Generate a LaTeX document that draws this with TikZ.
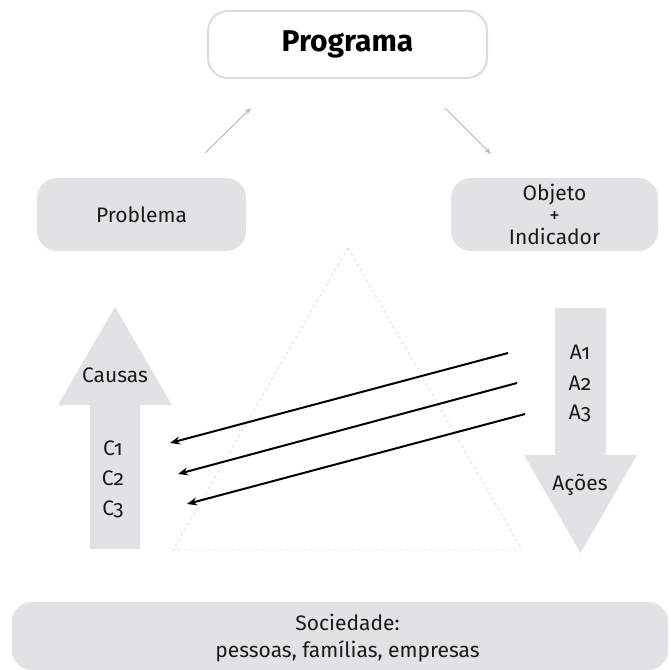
\documentclass[tikz,border=0pt]{standalone}
\usepackage{fontspec}
\setmainfont{Fira Sans}[Numbers=OldStyle]
\usepackage{tikz}
\usetikzlibrary{arrows.meta}
\usetikzlibrary{positioning}
\definecolor{boxgray}{HTML}{E1E2E4}
\definecolor{linegray}{HTML}{DCDCDC}
\definecolor{arrowgray}{HTML}{B5B7BA}
\definecolor{inkblack}{HTML}{1A1A1A}
\tikzstyle{box}=[fill=boxgray,rounded corners=20pt,inner sep=0pt,align=center,text=inkblack,font=\fontsize{21}{22}\selectfont]
\tikzstyle{lbl}=[inner sep=0pt,anchor=base,text=inkblack,font=\fontsize{21}{22}\selectfont]

\begin{document}
\begin{tikzpicture}[x=1pt,y=-1pt]
\tikzstyle{thin arrow}=[draw=arrowgray,line width=0.9pt,-{Stealth[length=7pt,width=5pt]}]
\tikzstyle{link}=[draw=black,line width=2pt,-{Stealth[length=10pt,width=8pt]}]
\useasboundingbox (0,0) rectangle (671,669);

% boxes
\node [draw=linegray,line width=2pt,rounded corners=20pt,minimum width=279pt,minimum height=67pt,
       font=\fontsize{30}{32}\selectfont\bfseries] (prog) at (347.5,44.5) {Programa};
\node [box,minimum width=209pt,minimum height=73pt] (prob) at (141.5,214.5) {Problema};
\node [box,minimum width=207pt,minimum height=73pt] (obj) at (554.5,214.5) {Objeto\\+\\Indicador};
\node [box,minimum width=656pt,minimum height=68pt] (soc) at (340,636) {};
\node [lbl] (soc1) at (347.5,630) {Sociedade:};
\node [lbl] (soc2) at (347.5,657) {pessoas, famílias, empresas};

% triangle
\draw [linegray,line width=0.8pt,dashed] (348,248) -- (522,550) -- (173,550) -- cycle;

% big arrows
\fill [boxgray] (90,549) -- (90,405) -- (58,405) -- (115,307) -- (172,405) -- (140,405) -- (140,549) -- cycle;
\fill [boxgray] (555,308) -- (555,455) -- (524,455) -- (580.5,553) -- (637,455) -- (606,455) -- (606,308) -- cycle;

% labels
\node [lbl] (causas) at (115,382) {Causas};
\node [lbl] (c1) at (113,455) {C1};
\node [lbl] (c2) at (113,485) {C2};
\node [lbl] (c3) at (113,515) {C3};
\node [lbl] (a1) at (580,359) {A1};
\node [lbl] (a2) at (580,390) {A2};
\node [lbl] (a3) at (580,419) {A3};
\node [lbl] (acoes) at (580,490) {Ações};

% link ends
\coordinate (p1) at (205,153);
\coordinate (p2) at (251,108);
\coordinate (o1) at (445,108);
\coordinate (o2) at (491,154);
\coordinate (s1) at (508,353);
\coordinate (s2) at (517,383);
\coordinate (s3) at (525,414);
\coordinate (e1) at (170,443);
\coordinate (e2) at (178,474);
\coordinate (e3) at (187,504);

\draw [thin arrow] (p1) -- (p2);
\draw [thin arrow] (o1) -- (o2);
\draw [link] (s1) -- (e1);
\draw [link] (s2) -- (e2);
\draw [link] (s3) -- (e3);

\end{tikzpicture}
\end{document}
